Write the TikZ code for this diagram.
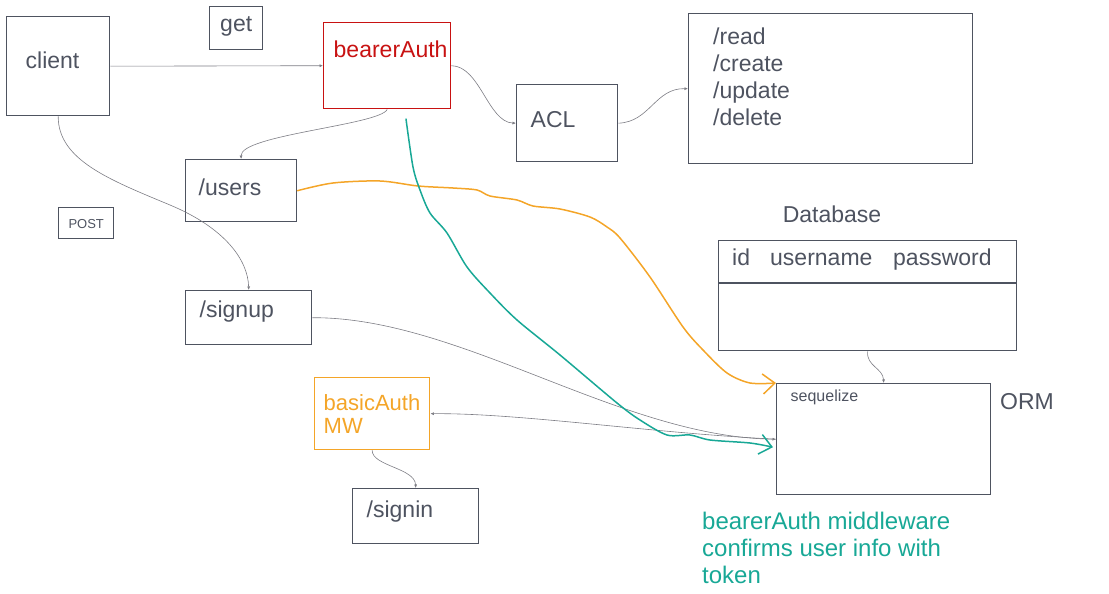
\documentclass[tikz,border=0pt]{standalone}
\usepackage{fontspec}
\setmainfont{Liberation Sans}
\usetikzlibrary{arrows.meta}
\definecolor{inkgray}{RGB}{78,83,96}
\definecolor{linegray}{RGB}{125,125,132}
\definecolor{authred}{RGB}{200,18,18}
\definecolor{mworange}{RGB}{244,165,40}
\definecolor{tokenteal}{RGB}{24,168,150}
\tikzset{
  box/.style={draw=inkgray, line width=1.4pt, anchor=north west, inner ysep=0pt,
    text=inkgray, align=left, font=\fontsize{23}{27}\selectfont},
  lbl/.style={text=inkgray, inner sep=0pt, align=left, font=\fontsize{23}{27}\selectfont},
  link/.style={-{Latex[length=3.5pt,width=3pt]}, linegray, line width=0.6pt},
  hand/.style={line width=1.5pt, line cap=round, -{Straight Barb[length=12pt,width=20pt]}}
}
\begin{document}
\begin{tikzpicture}[x=1pt, y=-1pt]
\useasboundingbox (0,0) rectangle (1109,594);

% Request side
\node[box, inner xsep=19pt, text width=65pt, text height=52pt, text depth=47pt] (client) at (6,16) {client};
\node[box, inner xsep=0pt, text width=53pt, align=center, text height=25pt, text depth=18pt] (get) at (209,6) {get};
\node[box, inner xsep=0pt, text width=55pt, align=center, text height=21pt, text depth=10pt,
  font=\fontsize{13}{15}\selectfont] (post) at (58,207) {POST};

% Auth boxes
\node[box, draw=authred, text=authred, font=\fontsize{23}{28}\selectfont,
  inner xsep=10pt, text width=107pt, text height=35pt, text depth=51pt] (bearer) at (323,22) {bearerAuth};
\node[box, draw=mworange, text=mworange, font=\fontsize{22}{23}\selectfont,
  inner xsep=9pt, text width=97pt, minimum height=72pt] (basic) at (314,377) {basicAuth\\MW};
\node[box, inner xsep=14pt, text width=73pt, text height=43pt, text depth=34pt] (acl) at (516,84) {ACL};

% Routes
\node[box, minimum width=284pt, minimum height=150pt] (routes) at (688,13) {};
\node[lbl, anchor=north west] (routes-list) at (713,28) {/read\\/create\\/update\\/delete};
\node[box, inner xsep=13pt, text width=85pt, text height=36pt, text depth=26pt] (users) at (185,159) {/users};
\node[box, inner xsep=14pt, text width=98pt, text height=27pt, text depth=27pt] (signup) at (185,290) {/signup};
\node[box, inner xsep=14pt, text width=98pt, text height=29pt, text depth=26pt] (signin) at (352,488) {/signin};

% Database table
\node[lbl, anchor=base] (db-title) at (832,222) {Database};
\node[box, minimum width=298pt, minimum height=110pt] (db) at (718,240) {};
\draw[inkgray, line width=1.4pt] ([yshift=-43pt]db.north west) -- ([yshift=-43pt]db.north east);
\node[lbl, anchor=base west] (col-id) at (732,265) {id};
\node[lbl, anchor=base west] (col-user) at (770,265) {username};
\node[lbl, anchor=base west] (col-pass) at (893,265) {password};

% ORM
\node[box, font=\fontsize{16}{18}\selectfont, inner xsep=14pt, text width=186pt,
  text height=18pt, text depth=93pt] (seq) at (776,383) {sequelize};
\node[lbl, anchor=base west] (orm) at (1000,409) {ORM};
\node[lbl, anchor=north west, text=tokenteal, font=\fontsize{24}{27}\selectfont] (note) at (702,512)
  {bearerAuth middleware\\confirms user info with\\token};

% Thin connectors
\draw[link] (client.east) -- (bearer.west);
\draw[link] (bearer.east) .. controls (480,66) and (488,122) .. (acl.west);
\draw[link] (acl.east) .. controls (650,122) and (655,88) .. (routes.west);
\draw[link] (bearer.south) .. controls (380,125) and (240,135) .. (users.north);
\draw[link] (client.south) .. controls (58,160) and (110,180) .. (170,205)
  .. controls (225,228) and (248,260) .. (signup.north);
\draw[link] (signup.east) .. controls (460,317) and (620,437) .. (seq.west);
\draw[link] (seq.west) .. controls (650,433) and (520,413) .. (basic.east);
\draw[link] (basic.south) .. controls (372,466) and (415,468) .. (signin.north);
\draw[link] (db.south) .. controls (866,366) and (883,368) .. (seq.north);

% Hand drawn strokes
\draw[hand, mworange] plot[smooth, tension=0.5] coordinates {(users.east) (333,183) (380,181) (418,186)
  (453,188) (477,190) (490,196) (517,200) (533,206) (560,209) (590,217) (607,227) (620,238)
  (650,277) (683,327) (703,350) (727,373) (750,383) (seq.north west)};
\coordinate (token-start) at (406,119);
\draw[hand, tokenteal] plot[smooth, tension=0.5] coordinates {(token-start) (413,167) (420,190)
  (430,213) (447,233) (467,267) (490,293) (517,320) (560,355) (617,403) (640,420)
  (667,435) (690,435) (710,440) (750,443) ([shift={(-3,8)}]seq.west)};

\end{tikzpicture}
\end{document}
